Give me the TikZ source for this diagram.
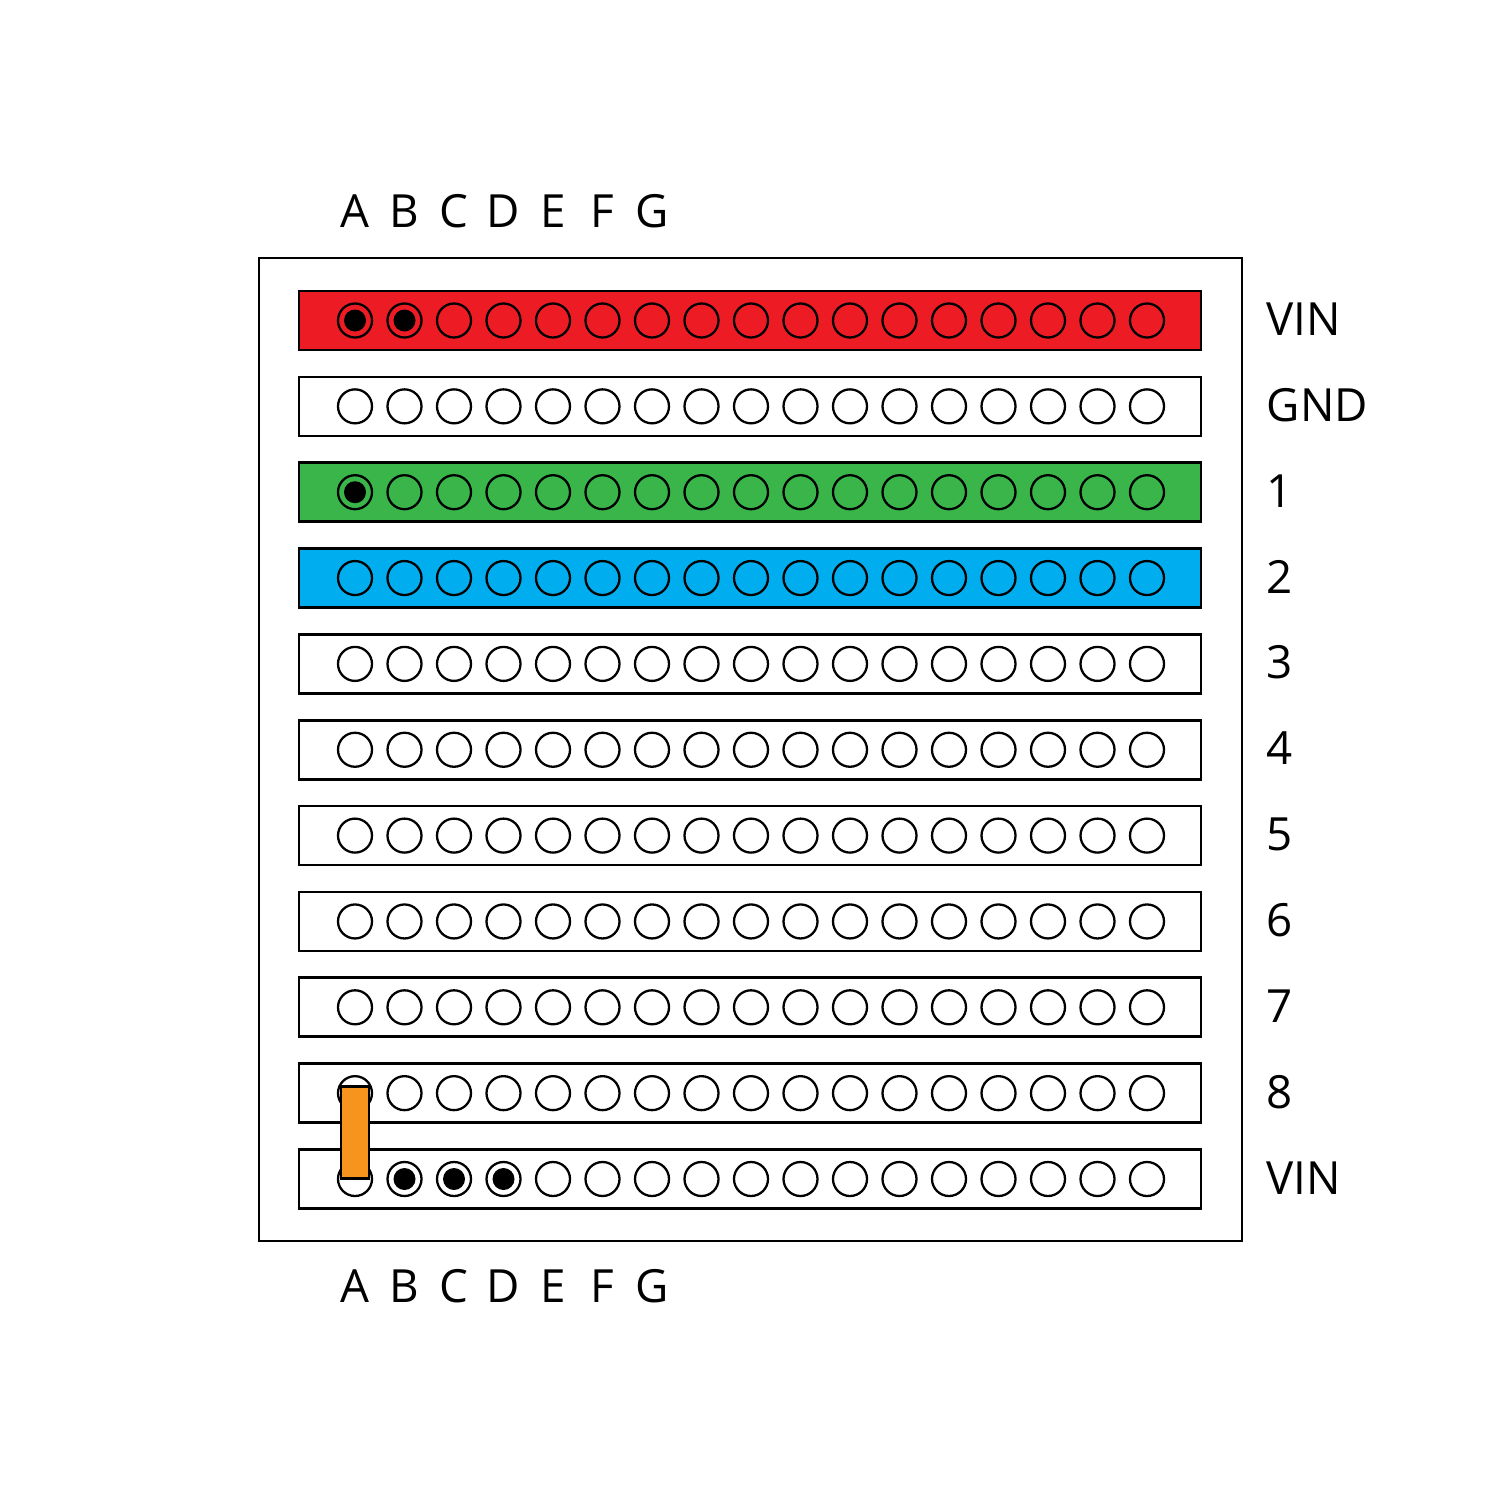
\documentclass[tikz,border=0pt]{standalone}
\usepackage{fontspec}
\setmainfont{Open Sans}
\definecolor{stripred}{HTML}{ED1C24}
\definecolor{stripgreen}{HTML}{39B54A}
\definecolor{stripblue}{HTML}{00AEEF}
\definecolor{jumper}{HTML}{F7941D}
\begin{document}
\begin{tikzpicture}[x=0.01cm,y=-0.01cm,
  board/.style={draw=black,line width=0.75pt},
  strip/.style={draw=black,line width=0.75pt},
  hole/.style={draw=black,line width=0.65pt},
  lbl/.style={inner sep=0pt,font=\fontsize{13pt}{16pt}\selectfont}]
\useasboundingbox (0,0) rectangle (1500,1500);
\draw[board] (259,258) rectangle (1242,1241);
% strips with holes
\foreach \i/\col/\hf in {0/stripred/stripred,1/white/white,2/stripgreen/stripgreen,3/stripblue/stripblue,4/white/white,5/white/white,6/white/white,7/white/white,8/white/white,9/white/white,10/white/white}{
  \pgfmathsetmacro{\cy}{320.5+85.85*\i}
  \draw[strip,fill=\col] (299,\cy-29.5) rectangle (1201,\cy+29.5);
  \foreach \j in {0,...,16}{
    \pgfmathsetmacro{\cx}{355+49.5*\j}
    \draw[hole,fill=\hf] (\cx,\cy) circle (17);
  }
}
% filled dots
\foreach \i/\j in {0/0,0/1,2/0,10/1,10/2,10/3}{
  \pgfmathsetmacro{\cy}{320.5+85.85*\i}
  \pgfmathsetmacro{\cx}{355+49.5*\j}
  \fill[black] (\cx,\cy) circle (11);
}
% jumper
\draw[line width=0.85pt,fill=jumper] (341,1086) rectangle (369,1178);
% column labels
\foreach \l [count=\k from 0] in {A,B,C,D,E,F,G}{
  \pgfmathsetmacro{\cx}{355+49.5*\k}
  \node[lbl,anchor=base] (top\l) at (\cx,228) {\l};
  \node[lbl,anchor=base] (bot\l) at (\cx,1302) {\l};
}
% row labels
\foreach \t [count=\k from 0] in {VIN,GND,1,2,3,4,5,6,7,8,VIN}{
  \pgfmathsetmacro{\cy}{320.5+85.85*\k+15}
  \node[lbl,anchor=base west] (row\k) at (1266,\cy) {\t};
}
\end{tikzpicture}
\end{document}
